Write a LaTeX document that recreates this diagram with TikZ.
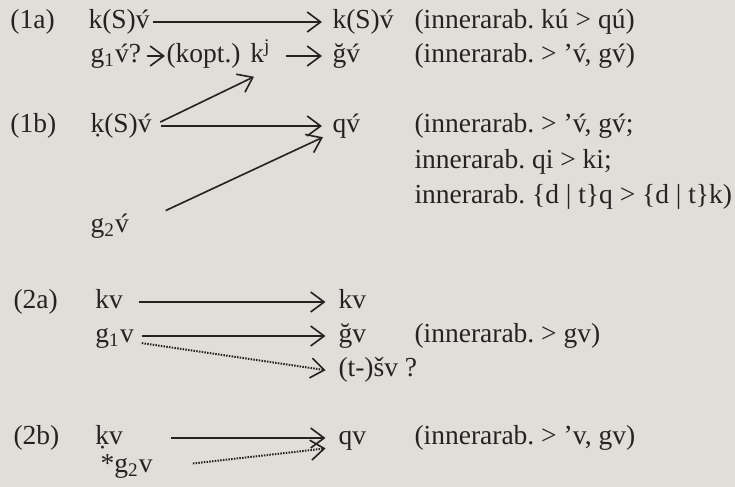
\documentclass[tikz,border=0pt]{standalone}
\usepackage{fontspec}
\setmainfont{Liberation Serif}
\usetikzlibrary{arrows.meta}
\definecolor{paperGray}{RGB}{224,222,217}
\definecolor{inkGray}{RGB}{38,34,34}

\begin{document}
\frenchspacing
\begin{tikzpicture}[x=0.4pt,y=-0.4pt,
          txt/.style={anchor=west,inner sep=0pt,text=inkGray,
                      font=\fontsize{11}{13}\selectfont},
          arr/.style={draw=inkGray,line width=0.65pt,
                      -{Straight Barb[length=5.4pt,width=8pt,line width=0.65pt]}},
          dots/.style={arr,line width=0.8pt,dash pattern=on 0.6pt off 0.5pt}]
          \fill[paperGray] (0,0) rectangle (735,487);
          % (1a)
          \node[txt](l1a) at (10,22){\strut(1a)};
          \node[txt](s1a) at (88,22){\strut k(S)v́};
          \node[txt](t1a) at (332,22){\strut k(S)v́};
          \node[txt](c1a) at (414,22){\strut(innerarab. kú > qú)};
          \node[txt](g1q) at (90,56){\strut g\textsubscript{1}v́?};
          \node[txt](kopt) at (166,56){\strut(kopt.)};
          \node[txt](kj) at (250,56){\strut k\textsuperscript{j}};
          \node[txt](t1g) at (332,56){\strut ğv́};
          \node[txt](c1g) at (414,56){\strut(innerarab. > ’v́, gv́)};
          % (1b)
          \node[txt](l1b) at (10,126){\strut(1b)};
          \node[txt](s1b) at (90,126){\strut ḳ(S)v́};
          \node[txt](t1b) at (332,126){\strut qv́};
          \node[txt](c1b) at (414,126){\strut(innerarab. > ’v́, gv́;};
          \node[txt](c1c) at (414,162){\strut innerarab. qi > ki;};
          \node[txt](c1d) at (414,197){\strut innerarab. \{d | t\}q > \{d | t\}k)};
          \node[txt](g2b) at (90,226){\strut g\textsubscript{2}v́};
          \draw[arr,shorten <=1.2pt,shorten >=4pt] (s1a.east)--(t1a.west);
          \draw[arr,shorten <=2pt,shorten >=0.4pt] (g1q.east)--(kopt.west);
          \draw[arr,shorten <=6pt,shorten >=4pt] (kj.east)--(t1g.west);
          \draw[arr,shorten <=3.6pt,shorten >=4pt] (s1b.east)--(t1b.west);
          \draw[arr,shorten <=3.6pt] (s1b.east)--([shift={(4,4)}]kj.south west);
          \draw[arr,shorten <=16pt,shorten >=4pt] ([yshift=-0.6pt]g2b.east)--([yshift=-2.8pt]t1b.west);
          % (2a)
          \node[txt](l2a) at (13,302){\strut(2a)};
          \node[txt](s2a) at (95,302){\strut kv};
          \node[txt](t2a) at (338,302){\strut kv};
          \node[txt](g2a) at (95,336){\strut g\textsubscript{1}v};
          \node[txt](t2g) at (338,336){\strut ğv};
          \node[txt](c2g) at (414,336){\strut(innerarab. > gv)};
          \node[txt](t2t) at (338,370){\strut(t-)šv ?};
          \draw[arr,shorten <=6pt,shorten >=5pt] (s2a.east)--(t2a.west);
          \draw[arr,shorten <=3pt,shorten >=5pt] (g2a.east)--(t2g.west);
          \draw[dots,shorten <=3pt,shorten >=5pt] ([yshift=-2.4pt]g2a.east)--([yshift=-0.8pt]t2t.west);
          % (2b)
          \node[txt](l2b) at (13,438){\strut(2b)};
          \node[txt](s2b) at (95,438){\strut ḳv};
          \node[txt](t2b) at (338,438){\strut qv};
          \node[txt](c2b) at (414,438){\strut(innerarab. > ’v, gv)};
          \node[txt](s2c) at (100,466){\strut *g\textsubscript{2}v};
          \draw[arr,shorten <=19pt,shorten >=5pt] (s2b.east)--(t2b.west);
          \draw[dots,shorten <=16pt,shorten >=5pt] ([yshift=-0.8pt]s2c.east)--([yshift=-3.6pt]t2b.west);
        \end{tikzpicture}
\end{document}
